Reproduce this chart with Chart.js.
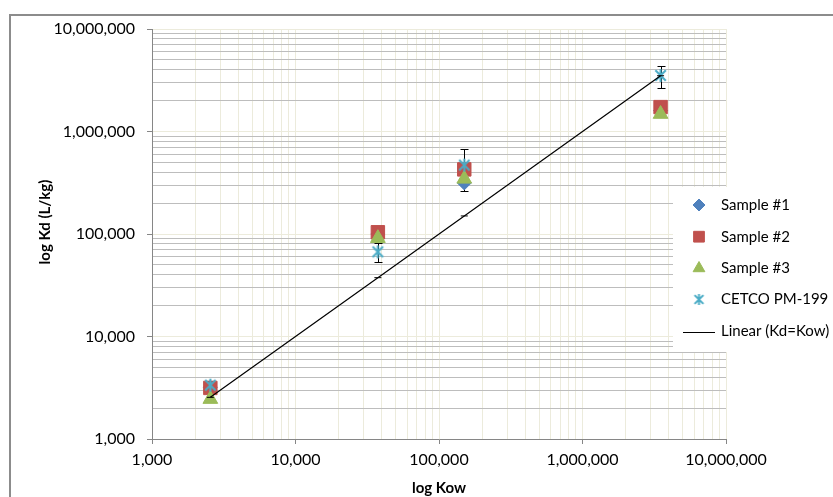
<!DOCTYPE html>
<html><head><meta charset="utf-8">
<script src="https://cdn.jsdelivr.net/npm/chart.js@4.4.1/dist/chart.umd.min.js"></script>
<style>html,body{margin:0;padding:0;background:#fff;overflow:hidden}</style>
</head><body>
<canvas id="c" width="833" height="497"></canvas>
<script>
// ---- data ----
const seriesNames = ['Sample #1', 'Sample #2', 'Sample #3', 'CETCO PM-199', 'Linear (Kd=Kow)'];
const kow      = [2550, 37500, 150000, 3500000];
const sample1  = [3200, 100000, 315000, 1600000];
const sample2  = [3150, 104000, 427000, 1730000];
const sample3  = [2450, 91000, 345000, 1480000];
const cetco    = [3350, 67000, 470000, 3520000];
const cetcoErr = [300, 14000, 210000, 860000];
const linearKd = [2550, 37500, 150000, 3500000];
const decadeTicks = [1000, 10000, 100000, 1000000, 10000000];
const tickLabels  = ['1,000', '10,000', '100,000', '1,000,000', '10,000,000'];

// gridline values: 1..9 multiples of each decade
const gridValues = [];
decadeTicks.forEach((d, i) => {
  if (i < decadeTicks.length - 1) { for (let m = 1; m <= 9; m++) gridValues.push(d * m); }
  else gridValues.push(d);
});

const COLORS = {s1: '#4F81BD', s2: '#C0504D', s3: '#9BBB59', cetco: '#4BACC6'};
const CREAM = '#ecebdc', GRAYGRID = '#bdbdbd', AXIS = '#868686';

function makeStar(size, color, lw) {
  const c = document.createElement('canvas');
  c.width = size; c.height = size;
  const g = c.getContext('2d');
  g.strokeStyle = color; g.lineWidth = lw;
  const m = size / 2, r = size / 2 - 1;
  g.beginPath();
  g.moveTo(m, m - r); g.lineTo(m, m + r);
  const d = r * 0.8;
  g.moveTo(m - d, m - d); g.lineTo(m + d, m + d);
  g.moveTo(m + d, m - d); g.lineTo(m - d, m + d);
  g.stroke();
  return c;
}
const starBig = makeStar(15, COLORS.cetco, 2);
const starSmall = makeStar(13, COLORS.cetco, 2);

const pts = arr => kow.map((x, i) => ({x: x, y: arr[i]}));
const isMajor = v => decadeTicks.includes(v);

Chart.defaults.font.family = 'Lato, "Open Sans", sans-serif';
Chart.defaults.font.size = 16;
Chart.defaults.color = '#000';

const bgPlugin = {
  id: 'bg',
  beforeDraw(chart) {
    const ctx = chart.ctx;
    ctx.save();
    ctx.fillStyle = '#fff';
    ctx.fillRect(0, 0, chart.width, chart.height);
    ctx.fillStyle = '#8c8c8c';
    ctx.fillRect(9, 14, 2, chart.height - 14);
    ctx.fillRect(9, 14, chart.width - 9, 2);
    ctx.restore();
  }
};

const errorBarPlugin = {
  id: 'errorBars',
  beforeDatasetsDraw(chart) {
    const ctx = chart.ctx, xs = chart.scales.x, ys = chart.scales.y;
    ctx.save();
    ctx.strokeStyle = '#000';
    ctx.lineWidth = 1;
    cetco.forEach((v, i) => {
      const px = Math.round(xs.getPixelForValue(kow[i])) + 0.5;
      const yt = Math.round(ys.getPixelForValue(v + cetcoErr[i])) + 0.5;
      const yb = Math.round(ys.getPixelForValue(v - cetcoErr[i])) + 0.5;
      ctx.beginPath();
      ctx.moveTo(px, yt); ctx.lineTo(px, yb);
      ctx.moveTo(px - 4, yt); ctx.lineTo(px + 4, yt);
      ctx.moveTo(px - 4, yb); ctx.lineTo(px + 4, yb);
      ctx.stroke();
    });
    ctx.restore();
  }
};

const titlesPlugin = {
  id: 'yTitle',
  afterDraw(chart) {
    const ctx = chart.ctx;
    ctx.save();
    ctx.translate(45, 222);
    ctx.rotate(-Math.PI / 2);
    ctx.font = 'bold 15px Lato, sans-serif';
    ctx.fillStyle = '#000';
    ctx.textAlign = 'center';
    ctx.textBaseline = 'middle';
    ctx.fillText('log Kd (L/kg)', 0, 0);
    ctx.restore();
  }
};

const legendPlugin = {
  id: 'customLegend',
  afterDraw(chart) {
    const ctx = chart.ctx;
    ctx.save();
    ctx.fillStyle = '#fff';
    ctx.fillRect(673, 187, 160, 165);
    const rows = [205, 236.7, 268.3, 299.5, 331.5];
    const styles = [
      {pointStyle: 'rectRot', radius: 6, color: COLORS.s1},
      {pointStyle: 'rect', radius: 7.6, color: COLORS.s2},
      {pointStyle: 'triangle', radius: 6.8, color: COLORS.s3},
      {pointStyle: starSmall, radius: 6, color: COLORS.cetco}
    ];
    ctx.font = '15px Lato, sans-serif';
    ctx.textBaseline = 'middle';
    seriesNames.forEach((name, i) => {
      const y = rows[i];
      if (i < 4) {
        const s = styles[i];
        ctx.fillStyle = s.color; ctx.strokeStyle = s.color; ctx.lineWidth = 1;
        Chart.helpers.drawPoint(ctx, {pointStyle: s.pointStyle, radius: s.radius, borderWidth: 1, rotation: 0}, 699, y);
      } else {
        ctx.strokeStyle = '#000'; ctx.lineWidth = 1;
        ctx.beginPath(); ctx.moveTo(683, Math.round(y) + 0.5); ctx.lineTo(715, Math.round(y) + 0.5); ctx.stroke();
      }
      ctx.fillStyle = '#000';
      ctx.fillText(name, 721, y);
    });
    ctx.restore();
  }
};

function axisCommon(isY) {
  return {
    type: 'logarithmic',
    min: decadeTicks[0],
    max: decadeTicks[decadeTicks.length - 1],
    afterBuildTicks: scale => { scale.ticks = gridValues.map(v => ({value: v, major: isMajor(v)})); },
    ticks: {
      autoSkip: false,
      maxRotation: 0,
      padding: isY ? 12 : 6,
      font: {size: 16},
      color: '#000',
      callback: v => { const i = decadeTicks.indexOf(v); return i >= 0 ? tickLabels[i] : ''; }
    },
    grid: {
      color: ctx => (isY ? (ctx.tick && isMajor(ctx.tick.value) ? CREAM : GRAYGRID) : CREAM),
      tickColor: ctx => (ctx.tick && isMajor(ctx.tick.value) ? AXIS : 'rgba(0,0,0,0)'),
      tickLength: 5,
      lineWidth: 1,
      drawTicks: true
    },
    border: {color: AXIS, width: 1}
  };
}

const xAxis = axisCommon(false);
xAxis.position = 'bottom';
xAxis.title = {display: true, text: 'log Kow', font: {size: 15, weight: 'bold'}, color: '#000', padding: {top: 0, bottom: 0}};
xAxis.afterFit = s => { s.height = 58; };
const yAxis = axisCommon(true);
yAxis.position = 'left';
yAxis.afterFit = s => { s.width = 152; };

new Chart(document.getElementById('c'), {
  type: 'scatter',
  data: {
    datasets: [
      {label: seriesNames[4], data: pts(linearKd), showLine: true, borderColor: '#000', borderWidth: 1.2,
       pointStyle: 'line', pointRadius: 3.5, pointBorderColor: '#000', pointBorderWidth: 1, order: 0},
      {label: seriesNames[3], data: pts(cetco), pointStyle: starBig, pointRadius: 7, order: 1},
      {label: seriesNames[2], data: pts(sample3), pointStyle: 'triangle', pointRadius: 8.5,
       backgroundColor: COLORS.s3, borderColor: COLORS.s3, pointBorderWidth: 1, order: 2},
      {label: seriesNames[1], data: pts(sample2), pointStyle: 'rect', pointRadius: 9.5,
       backgroundColor: COLORS.s2, borderColor: COLORS.s2, pointBorderWidth: 1, order: 3},
      {label: seriesNames[0], data: pts(sample1), pointStyle: 'rectRot', pointRadius: 7,
       backgroundColor: COLORS.s1, borderColor: COLORS.s1, pointBorderWidth: 1, order: 4}
    ]
  },
  options: {
    responsive: false,
    animation: false,
    devicePixelRatio: 1,
    layout: {padding: {left: 0, top: 29, right: 107, bottom: 0}},
    plugins: {legend: {display: false}, tooltip: {enabled: false}, title: {display: false}},
    scales: {x: xAxis, y: yAxis}
  },
  plugins: [bgPlugin, errorBarPlugin, titlesPlugin, legendPlugin]
});
</script>
</body></html>
